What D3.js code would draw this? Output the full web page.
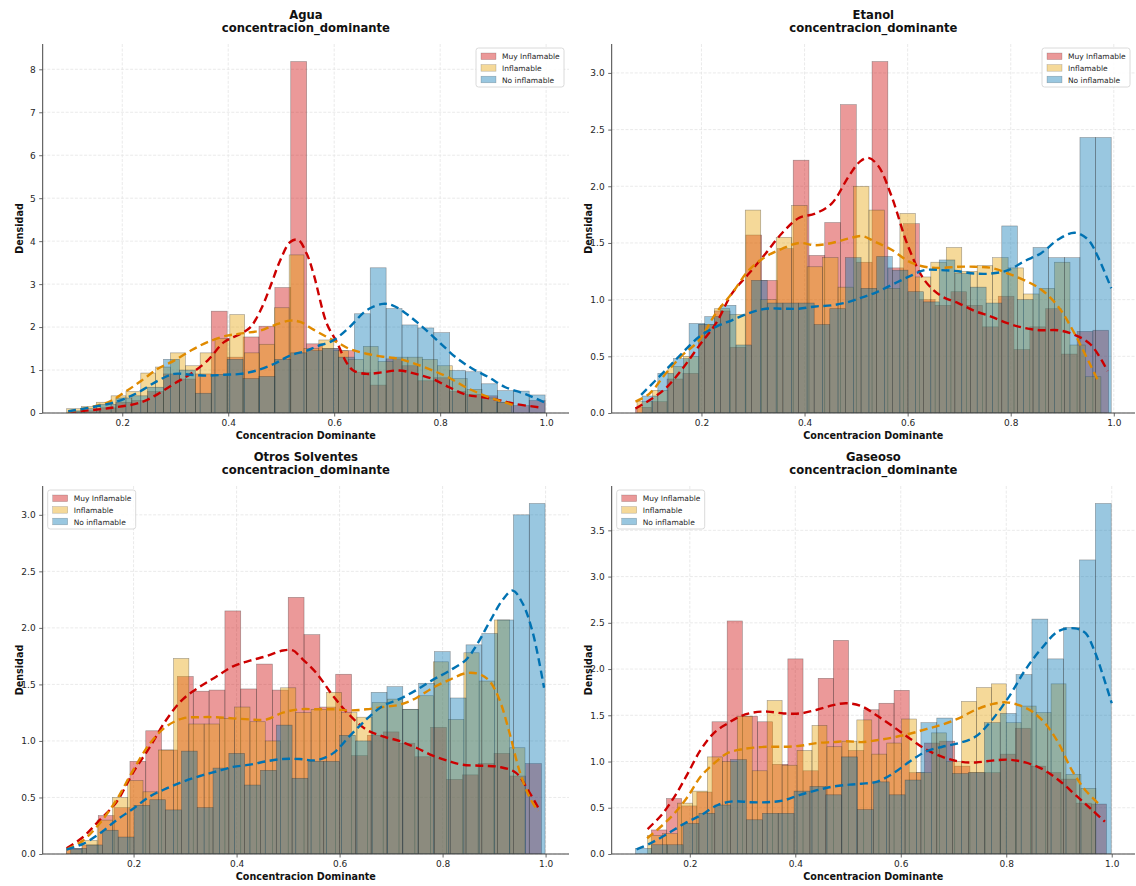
<!DOCTYPE html>
<html>
<head>
<meta charset="utf-8">
<script src="https://cdn.jsdelivr.net/npm/d3@7"></script>
<style>
  body { margin: 0; background: #fff; }
  svg { font-family: "DejaVu Sans", sans-serif; }
</style>
</head>
<body>
<svg id="chart" width="1136" height="886"></svg>
<script>
// ---- Categories and shared labels ----
const categories = ["Muy Inflamable", "Inflamable", "No inflamable"];
const panelNames = ["Agua", "Etanol", "Otros Solventes", "Gaseoso"];
const subtitle = "concentracion_dominante";
const xLabel = "Concentracion Dominante";
const yLabel = "Densidad";
const xTicks = [0.2, 0.4, 0.6, 0.8, 1.0];

// ---- Agua: histogram densities (30 bins each) and value ranges ----
const aguaMuy = [0.03,0.05,0.12,0.25,0.29,0.5,0.91,0.79,0.91,2.37,1.3,1.77,2.02,2.92,8.18,1.61,1.5,1.45,0.95,0.65,1.26,1.1,0.75,0.82,0.5,0.43,0.4,0.25,0.17,0.29];
const aguaMuyRange = [0.098, 0.998];
const aguaInf = [0.1,0.15,0.25,0.4,0.5,0.93,1.07,1.4,1.1,1.4,1.73,2.29,1.4,1.6,2.45,3.68,1.5,1.7,1.45,1.25,1.55,1.2,1.3,1.3,1.25,1.1,0.8,0.55,0.35,0.25];
const aguaInfRange = [0.095, 0.935];
const aguaNo = [0.05,0.1,0.2,0.35,0.4,0.6,1.25,1.0,0.46,0.9,1.25,0.8,0.85,1.25,1.4,1.45,1.5,1.3,2.31,3.38,2.43,2.05,1.98,1.87,0.99,0.96,0.68,0.52,0.51,0.42];
const aguaNoRange = [0.098, 0.998];
// Agua: density curves as [x, density]
const aguaMuyKde = [[0.098,0.02],[0.173,0.11],[0.236,0.25],[0.267,0.44],[0.298,0.68],[0.329,0.91],[0.361,1.22],[0.392,1.65],[0.423,1.84],[0.442,2.0],[0.461,2.39],[0.479,2.93],[0.498,3.55],[0.517,3.98],[0.532,4.03],[0.548,3.71],[0.561,3.24],[0.586,2.08],[0.605,1.65],[0.623,1.18],[0.636,0.99],[0.661,0.91],[0.692,0.95],[0.723,0.99],[0.754,0.91],[0.786,0.79],[0.817,0.6],[0.848,0.43],[0.879,0.37],[0.911,0.3],[0.942,0.21],[0.989,0.13]];
const aguaInfKde = [[0.098,0.03],[0.173,0.25],[0.204,0.48],[0.236,0.75],[0.267,1.03],[0.298,1.22],[0.329,1.45],[0.361,1.65],[0.398,1.8],[0.429,1.86],[0.461,1.92],[0.486,2.04],[0.517,2.15],[0.536,2.12],[0.561,1.94],[0.586,1.77],[0.605,1.65],[0.629,1.49],[0.661,1.38],[0.692,1.31],[0.723,1.26],[0.754,1.14],[0.786,0.99],[0.817,0.82],[0.848,0.6],[0.879,0.43],[0.911,0.29],[0.942,0.17]];
const aguaNoKde = [[0.098,0.04],[0.173,0.21],[0.204,0.33],[0.236,0.52],[0.267,0.75],[0.298,0.91],[0.329,0.89],[0.361,0.87],[0.392,0.89],[0.423,0.91],[0.454,0.99],[0.486,1.14],[0.517,1.34],[0.548,1.45],[0.567,1.55],[0.598,1.69],[0.629,2.0],[0.661,2.39],[0.692,2.54],[0.711,2.5],[0.736,2.31],[0.767,2.0],[0.798,1.65],[0.829,1.3],[0.861,1.03],[0.892,0.83],[0.923,0.6],[0.961,0.44],[0.996,0.25]];
const aguaYTicks = [0,1,2,3,4,5,6,7,8];

// ---- Etanol ----
const etanolMuy = [0.05,0.1,0.3,0.35,0.78,0.9,0.58,1.57,1.17,1.45,2.23,1.39,1.68,2.72,1.33,3.1,1.28,1.67,1.0,0.95,1.07,0.95,0.76,1.03,0.56,0.76,0.92,0.52,0.72,0.73];
const etanolMuyRange = [0.072, 0.99];
const etanolInf = [0.1,0.2,0.41,0.5,0.78,0.92,0.87,1.79,1.0,1.55,1.83,1.29,1.37,1.11,2.0,1.79,1.1,1.76,1.2,1.33,1.46,1.25,1.3,1.37,1.28,1.05,1.1,1.33,0.6,0.32];
const etanolInfRange = [0.075, 0.975];
const etanolNo = [0.15,0.35,0.48,0.79,0.85,0.95,0.6,1.17,0.97,0.97,0.97,0.78,0.92,1.37,1.1,1.38,1.26,1.07,0.98,1.35,1.23,1.11,0.97,1.65,1.0,1.46,1.37,1.37,2.43,2.43];
const etanolNoRange = [0.085, 0.995];
const etanolMuyKde = [[0.072,0.04],[0.105,0.13],[0.131,0.22],[0.163,0.39],[0.195,0.59],[0.228,0.79],[0.26,1.06],[0.292,1.23],[0.325,1.41],[0.357,1.59],[0.389,1.72],[0.421,1.76],[0.453,1.85],[0.486,2.09],[0.508,2.22],[0.524,2.25],[0.543,2.18],[0.569,1.91],[0.601,1.47],[0.633,1.17],[0.666,1.03],[0.698,0.97],[0.73,0.9],[0.762,0.85],[0.795,0.79],[0.827,0.75],[0.859,0.73],[0.892,0.73],[0.924,0.69],[0.956,0.6],[0.988,0.37]];
const etanolInfKde = [[0.072,0.1],[0.099,0.17],[0.131,0.35],[0.163,0.51],[0.195,0.64],[0.228,0.88],[0.26,1.06],[0.292,1.26],[0.325,1.38],[0.357,1.45],[0.389,1.5],[0.421,1.48],[0.453,1.5],[0.486,1.54],[0.512,1.56],[0.537,1.51],[0.569,1.44],[0.601,1.34],[0.633,1.29],[0.666,1.28],[0.698,1.29],[0.73,1.29],[0.762,1.28],[0.795,1.23],[0.827,1.17],[0.859,1.09],[0.892,0.94],[0.924,0.7],[0.956,0.41],[0.97,0.28]];
const etanolNoKde = [[0.083,0.16],[0.131,0.38],[0.163,0.53],[0.195,0.67],[0.228,0.76],[0.26,0.82],[0.292,0.88],[0.325,0.92],[0.357,0.92],[0.389,0.92],[0.421,0.94],[0.453,0.95],[0.486,0.98],[0.512,1.02],[0.537,1.06],[0.569,1.13],[0.601,1.2],[0.633,1.26],[0.666,1.26],[0.698,1.25],[0.73,1.23],[0.762,1.23],[0.795,1.26],[0.827,1.34],[0.859,1.41],[0.892,1.53],[0.924,1.59],[0.95,1.53],[0.969,1.38],[0.995,1.1]];
const etanolYTicks = [0,0.5,1.0,1.5,2.0,2.5,3.0];

// ---- Otros Solventes ----
const otrosMuy = [0.05,0.08,0.34,0.41,0.82,1.09,0.92,1.57,1.44,1.45,2.15,1.46,1.68,1.45,2.27,1.94,1.3,1.59,0.87,1.05,1.08,0.98,0.86,1.12,0.66,0.7,0.8,0.89,0.69,0.8];
const otrosMuyRange = [0.07, 0.992];
const otrosInf = [0.04,0.12,0.3,0.5,0.65,0.55,0.92,1.73,1.15,1.15,1.2,1.3,1.17,1.0,1.47,1.25,1.28,1.43,1.25,1.21,1.34,1.37,1.28,1.4,1.7,1.19,1.78,1.53,2.07,0.94];
const otrosInfRange = [0.07, 0.96];
const otrosNo = [0.05,0.08,0.21,0.15,0.43,0.48,0.39,0.91,0.41,0.76,0.89,0.61,0.74,1.14,0.67,0.82,0.82,1.05,1.0,1.43,1.48,1.28,1.51,1.79,1.38,1.85,1.95,2.07,3.0,3.1];
const otrosNoRange = [0.078, 0.999];
const otrosMuyKde = [[0.07,0.05],[0.102,0.15],[0.134,0.3],[0.167,0.46],[0.199,0.72],[0.232,0.95],[0.264,1.19],[0.296,1.37],[0.329,1.48],[0.361,1.57],[0.393,1.66],[0.426,1.71],[0.458,1.75],[0.49,1.8],[0.51,1.8],[0.522,1.75],[0.555,1.6],[0.587,1.4],[0.619,1.23],[0.652,1.1],[0.684,1.04],[0.716,1.0],[0.749,0.94],[0.781,0.87],[0.813,0.82],[0.839,0.79],[0.878,0.78],[0.91,0.77],[0.942,0.72],[0.968,0.55],[0.988,0.39]];
const otrosInfKde = [[0.07,0.04],[0.102,0.12],[0.134,0.27],[0.167,0.48],[0.199,0.74],[0.232,0.98],[0.264,1.13],[0.296,1.2],[0.329,1.21],[0.361,1.21],[0.393,1.2],[0.426,1.19],[0.458,1.19],[0.49,1.25],[0.523,1.28],[0.555,1.28],[0.587,1.28],[0.619,1.27],[0.652,1.28],[0.684,1.3],[0.716,1.32],[0.749,1.38],[0.781,1.47],[0.813,1.54],[0.846,1.6],[0.872,1.59],[0.891,1.53],[0.91,1.37],[0.93,1.07],[0.949,0.74],[0.968,0.51],[0.985,0.38]];
const otrosNoKde = [[0.07,0.04],[0.102,0.09],[0.134,0.18],[0.167,0.3],[0.199,0.4],[0.232,0.51],[0.264,0.58],[0.296,0.64],[0.329,0.69],[0.361,0.73],[0.393,0.77],[0.426,0.79],[0.458,0.82],[0.49,0.84],[0.522,0.84],[0.555,0.83],[0.587,0.89],[0.619,1.04],[0.652,1.19],[0.684,1.31],[0.716,1.37],[0.749,1.45],[0.781,1.54],[0.813,1.62],[0.846,1.72],[0.865,1.84],[0.891,2.05],[0.917,2.25],[0.936,2.33],[0.955,2.22],[0.975,1.96],[0.997,1.47]];
const otrosYTicks = [0,0.5,1.0,1.5,2.0,2.5,3.0];

// ---- Gaseoso ----
const gaseosoMuy = [0.26,0.6,0.52,0.67,1.43,2.52,1.49,1.43,0.97,2.11,0.9,1.9,2.31,1.12,1.56,1.63,1.77,0.88,1.2,1.22,0.95,0.88,0.88,1.08,1.36,0.95,0.88,0.81,0.55,0.54];
const gaseosoMuyRange = [0.127, 0.99];
const gaseosoInf = [0.2,0.22,0.55,0.68,1.05,1.0,1.49,0.9,1.66,0.96,1.12,1.39,1.16,1.22,1.45,1.08,1.2,1.46,0.88,1.31,1.0,1.65,1.8,1.84,1.42,1.6,1.53,1.84,0.86,0.71];
const gaseosoInfRange = [0.12, 0.97];
const gaseosoNo = [0.06,0.1,0.1,0.33,0.44,0.53,1.02,0.37,0.44,0.44,0.68,0.73,0.64,1.05,0.48,0.78,0.64,0.8,1.42,1.47,0.87,0.88,1.42,1.52,1.94,2.54,2.11,2.45,3.18,3.79];
const gaseosoNoRange = [0.097, 0.999];
const gaseosoMuyKde = [[0.12,0.27],[0.146,0.42],[0.171,0.62],[0.196,0.87],[0.221,1.13],[0.246,1.31],[0.271,1.41],[0.296,1.49],[0.321,1.53],[0.347,1.54],[0.378,1.52],[0.409,1.52],[0.441,1.56],[0.472,1.61],[0.497,1.63],[0.525,1.6],[0.554,1.5],[0.585,1.38],[0.617,1.25],[0.648,1.13],[0.679,1.05],[0.711,1.0],[0.742,0.99],[0.773,1.01],[0.805,1.02],[0.836,0.99],[0.868,0.92],[0.899,0.8],[0.931,0.64],[0.962,0.48],[0.987,0.35]];
const gaseosoInfKde = [[0.119,0.17],[0.146,0.3],[0.171,0.44],[0.196,0.62],[0.221,0.84],[0.246,0.98],[0.271,1.09],[0.296,1.13],[0.321,1.15],[0.347,1.16],[0.378,1.16],[0.409,1.17],[0.441,1.2],[0.472,1.21],[0.497,1.22],[0.525,1.21],[0.554,1.23],[0.585,1.26],[0.617,1.3],[0.648,1.35],[0.679,1.4],[0.711,1.47],[0.742,1.56],[0.773,1.62],[0.799,1.64],[0.824,1.61],[0.849,1.54],[0.874,1.41],[0.899,1.2],[0.924,0.91],[0.95,0.69],[0.974,0.55]];
const gaseosoNoKde = [[0.099,0.05],[0.127,0.12],[0.158,0.22],[0.19,0.33],[0.221,0.42],[0.253,0.53],[0.284,0.57],[0.315,0.56],[0.347,0.56],[0.378,0.58],[0.409,0.64],[0.441,0.69],[0.472,0.73],[0.503,0.75],[0.525,0.76],[0.554,0.78],[0.585,0.87],[0.617,1.0],[0.648,1.11],[0.679,1.16],[0.711,1.2],[0.742,1.27],[0.773,1.45],[0.805,1.7],[0.836,1.99],[0.868,2.23],[0.899,2.41],[0.93,2.44],[0.95,2.39],[0.969,2.17],[0.984,1.92],[1.0,1.63]];
const gaseosoYTicks = [0,0.5,1.0,1.5,2.0,2.5,3.0,3.5];

// ---- Styling ----
const barColors = ["#cc0000", "#e69f00", "#0072b2"];
const lineColors = ["#cc0000", "#e08a00", "#0072b2"];
const barAlpha = 0.4;

// Plot areas (pixels) for the 2x2 grid
const boxes = [
  { left: 42.7, top: 44, right: 569, bottom: 413, legend: "right" },
  { left: 611.7, top: 44, right: 1135, bottom: 413, legend: "right" },
  { left: 42.7, top: 486, right: 569, bottom: 854, legend: "left" },
  { left: 611.7, top: 486, right: 1135, bottom: 854, legend: "left" }
];

const panels = [
  { hist: [aguaMuy, aguaInf, aguaNo], ranges: [aguaMuyRange, aguaInfRange, aguaNoRange], kde: [aguaMuyKde, aguaInfKde, aguaNoKde], yTicks: aguaYTicks, yFmt: d3.format("d") },
  { hist: [etanolMuy, etanolInf, etanolNo], ranges: [etanolMuyRange, etanolInfRange, etanolNoRange], kde: [etanolMuyKde, etanolInfKde, etanolNoKde], yTicks: etanolYTicks, yFmt: d3.format(".1f") },
  { hist: [otrosMuy, otrosInf, otrosNo], ranges: [otrosMuyRange, otrosInfRange, otrosNoRange], kde: [otrosMuyKde, otrosInfKde, otrosNoKde], yTicks: otrosYTicks, yFmt: d3.format(".1f") },
  { hist: [gaseosoMuy, gaseosoInf, gaseosoNo], ranges: [gaseosoMuyRange, gaseosoInfRange, gaseosoNoRange], kde: [gaseosoMuyKde, gaseosoInfKde, gaseosoNoKde], yTicks: gaseosoYTicks, yFmt: d3.format(".1f") }
];

const svg = d3.select("#chart");

panels.forEach((p, pi) => {
  const b = boxes[pi];
  const xmin = d3.min(p.ranges, r => r[0]);
  const xmax = d3.max(p.ranges, r => r[1]);
  const pad = (xmax - xmin) * 0.05;
  const x = d3.scaleLinear().domain([xmin - pad, xmax + pad]).range([b.left, b.right]);
  const ymax = d3.max(p.hist, h => d3.max(h)) * 1.05;
  const y = d3.scaleLinear().domain([0, ymax]).range([b.bottom, b.top]);

  const g = svg.append("g");
  const clipId = "clip" + pi;
  g.append("clipPath").attr("id", clipId).append("rect")
    .attr("x", b.left).attr("y", b.top).attr("width", b.right - b.left).attr("height", b.bottom - b.top);

  // light dashed grid
  const grid = g.append("g");
  grid.selectAll("line.gx").data(xTicks).join("line")
    .attr("x1", d => x(d)).attr("x2", d => x(d)).attr("y1", b.top).attr("y2", b.bottom)
    .attr("stroke", "#e4e4e4").attr("stroke-width", 0.8).attr("stroke-dasharray", "3,1.6");
  grid.selectAll("line.gy").data(p.yTicks).join("line")
    .attr("x1", b.left).attr("x2", b.right).attr("y1", d => y(d)).attr("y2", d => y(d))
    .attr("stroke", "#e4e4e4").attr("stroke-width", 0.8).attr("stroke-dasharray", "3,1.6");

  // histograms: one set of 30 bins per category over its own range
  const plot = g.append("g").attr("clip-path", `url(#${clipId})`);
  p.hist.forEach((h, si) => {
    const [lo, hi] = p.ranges[si];
    const w = (hi - lo) / h.length;
    const bins = h.map((v, i) => ({ x0: lo + i * w, x1: lo + (i + 1) * w, v }));
    plot.append("g").selectAll("rect").data(bins).join("rect")
      .attr("x", d => x(d.x0))
      .attr("width", d => x(d.x1) - x(d.x0))
      .attr("y", d => y(d.v))
      .attr("height", d => y(0) - y(d.v))
      .attr("fill", barColors[si]).attr("fill-opacity", barAlpha)
      .attr("stroke", "#2a2a2a").attr("stroke-width", 0.6).attr("stroke-opacity", 0.45);
  });

  // density curves
  const line = d3.line().x(d => x(d[0])).y(d => y(d[1])).curve(d3.curveCatmullRom.alpha(0.5));
  p.kde.forEach((k, si) => {
    plot.append("path").datum(k).attr("d", line)
      .attr("fill", "none").attr("stroke", lineColors[si]).attr("stroke-width", 2.4)
      .attr("stroke-dasharray", "8,4.5");
  });

  // axes
  const xAxis = d3.axisBottom(x).tickValues(xTicks).tickFormat(d3.format(".1f")).tickSize(3.5).tickPadding(3.5);
  const yAxis = d3.axisLeft(y).tickValues(p.yTicks).tickFormat(p.yFmt).tickSize(3.5).tickPadding(3.5);
  const gx = g.append("g").attr("transform", `translate(0,${b.bottom})`).call(xAxis);
  const gy = g.append("g").attr("transform", `translate(${b.left},0)`).call(yAxis);
  [gx, gy].forEach(a => {
    a.select(".domain").attr("stroke", "#444").attr("stroke-width", 1);
    a.selectAll(".tick line").attr("stroke", "#444").attr("stroke-width", 0.8);
    a.selectAll(".tick text").attr("fill", "#262626").attr("font-size", 9).attr("font-family", "DejaVu Sans");
  });
  gx.select(".domain").attr("d", `M${b.left},0H${b.right}`);
  gy.select(".domain").attr("d", `M0,${b.bottom}V${b.top}`);

  // axis labels
  const cx = (b.left + b.right) / 2;
  g.append("text").attr("x", cx).attr("y", b.bottom + 26).attr("text-anchor", "middle")
    .attr("font-size", 9.6).attr("font-weight", "bold").attr("fill", "#111").text(xLabel);
  g.append("text").attr("transform", `translate(${b.left - 20},${(b.top + b.bottom) / 2}) rotate(-90)`)
    .attr("text-anchor", "middle").attr("font-size", 9.6).attr("font-weight", "bold").attr("fill", "#111").text(yLabel);

  // title (two lines)
  g.append("text").attr("x", cx).attr("y", b.top - 25).attr("text-anchor", "middle")
    .attr("font-size", 11.6).attr("font-weight", "bold").attr("fill", "#111").text(panelNames[pi]);
  g.append("text").attr("x", cx).attr("y", b.top - 12).attr("text-anchor", "middle")
    .attr("font-size", 11.6).attr("font-weight", "bold").attr("fill", "#111").text(subtitle);

  // legend
  const lw = 88, lh = 39;
  const lx = b.legend === "right" ? b.right - lw - 5 : b.left + 5;
  const ly = b.top + 4;
  const lg = g.append("g").attr("transform", `translate(${lx},${ly})`);
  lg.append("rect").attr("width", lw).attr("height", lh).attr("rx", 2.5)
    .attr("fill", "#fff").attr("fill-opacity", 0.85).attr("stroke", "#d0d0d0").attr("stroke-width", 0.8);
  categories.forEach((c, i) => {
    const ry = 5 + i * 11.6;
    lg.append("rect").attr("x", 5).attr("y", ry).attr("width", 15).attr("height", 6.6)
      .attr("fill", barColors[i]).attr("fill-opacity", barAlpha)
      .attr("stroke", "#2a2a2a").attr("stroke-width", 0.5).attr("stroke-opacity", 0.35);
    lg.append("text").attr("x", 26).attr("y", ry + 6.4).attr("font-size", 7.5).attr("fill", "#262626").text(c);
  });
});
</script>
</body>
</html>
